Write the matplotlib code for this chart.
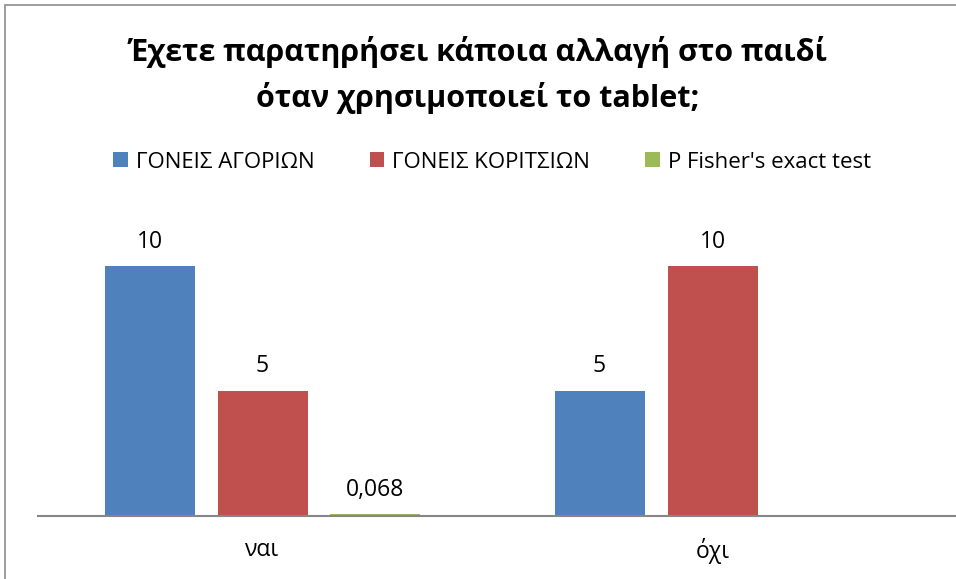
import numpy as np
import matplotlib.pyplot as plt
from matplotlib.patches import Rectangle

plt.rcParams['font.family'] = ['Open Sans', 'DejaVu Sans']

# Data
categories = ['ναι', 'όχι']
series_names = ['ΓΟΝΕΙΣ ΑΓΟΡΙΩΝ', 'ΓΟΝΕΙΣ ΚΟΡΙΤΣΙΩΝ', "P Fisher's exact test"]
boys = [10, 5]
girls = [5, 10]
fisher = [0.068, None]
labels_boys = ['10', '5']
labels_girls = ['5', '10']
labels_fisher = ['0,068', '']

colors = ['#4F81BD', '#C0504D', '#9BBB59']

W, H = 956, 579
fig = plt.figure(figsize=(W / 100, H / 100), dpi=100)

# Outer chart frame (cropped on right and bottom like the original)
fig.patches.append(Rectangle((5 / W, -0.1), 1.2, (H - 5) / H + 0.1,
                             transform=fig.transFigure, fill=False,
                             edgecolor='#8c8c8c', linewidth=1.2))

ax = fig.add_axes([37.5 / W, 63 / H, (W - 37.5) / W, 300 / H])

x = np.arange(len(categories))
bw = 0.2
gap = 0.0511
offsets = [-(bw + gap), 0, bw + gap]

all_series = [boys, girls, fisher]
all_labels = [labels_boys, labels_girls, labels_fisher]
for i, (vals, labs) in enumerate(zip(all_series, all_labels)):
    xs = [x[j] + offsets[i] for j in range(len(vals)) if vals[j] is not None]
    vs = [v for v in vals if v is not None]
    ls = [labs[j] for j in range(len(vals)) if vals[j] is not None]
    ax.bar(xs, vs, width=bw, color=colors[i], label=series_names[i])
    for xx, vv, ll in zip(xs, vs, ls):
        ax.text(xx, vv + 0.98, ll, ha='center', va='center', fontsize=16.5)

ax.set_xlim(-0.5, (W - 262.5) / 450)
ax.set_ylim(0, 12)
for s in ['top', 'right', 'left']:
    ax.spines[s].set_visible(False)
ax.spines['bottom'].set_color('#868686')
ax.spines['bottom'].set_linewidth(1.5)
ax.set_yticks([])
ax.set_xticks(x)
ax.set_xticklabels(categories, fontsize=16.5)
ax.tick_params(axis='x', length=0, pad=16)

fig.text(478 / W, 1 - 52 / H, 'Έχετε παρατηρήσει κάποια αλλαγή στο παιδί',
         ha='center', va='center', fontsize=22, fontweight='bold')
fig.text(478 / W, 1 - 98 / H, 'όταν χρησιμοποιεί το tablet;',
         ha='center', va='center', fontsize=22, fontweight='bold')

fig.legend(loc='center', bbox_to_anchor=(492 / W, 1 - 162 / H), ncol=3,
           frameon=False, fontsize=16, handlelength=0.65, handleheight=0.65,
           handletextpad=0.35, columnspacing=2.5)

fig.savefig('out.png', dpi=100)
